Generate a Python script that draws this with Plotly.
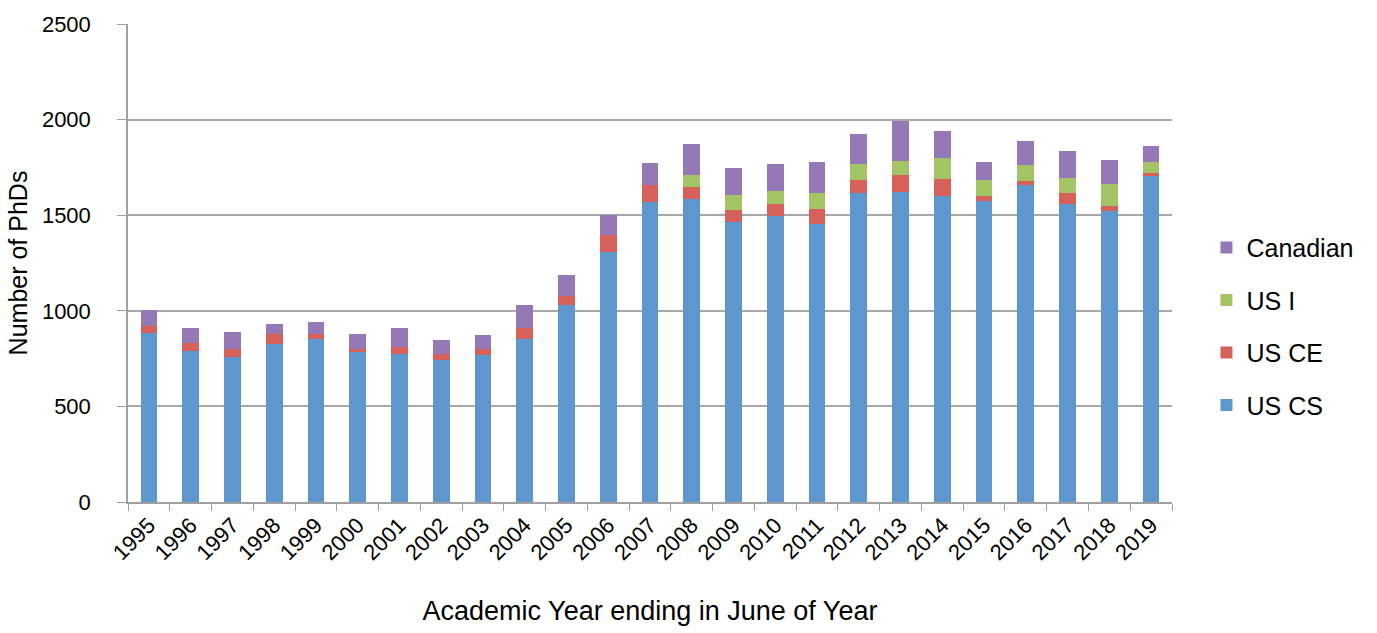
import plotly.graph_objects as go

years = [str(y) for y in range(1995, 2020)]
us_cs = [884, 791, 759, 824, 851, 785, 773, 742, 771, 855, 1031, 1305, 1571, 1583, 1466, 1497, 1453, 1617, 1622, 1603, 1573, 1656, 1559, 1520, 1703]
us_ce = [39, 41, 39, 53, 26, 15, 37, 32, 27, 56, 47, 94, 85, 63, 60, 59, 82, 69, 89, 88, 27, 24, 55, 27, 17]
us_i = [0, 0, 0, 0, 0, 0, 0, 0, 0, 0, 0, 0, 0, 64, 79, 73, 82, 83, 72, 106, 82, 81, 82, 118, 57]
canadian = [81, 79, 93, 53, 67, 77, 101, 71, 74, 118, 109, 100, 119, 162, 144, 137, 163, 155, 209, 142, 98, 127, 139, 123, 85]

series = [
    ("US CS", us_cs, "#5E96CE", 4),
    ("US CE", us_ce, "#D6605A", 3),
    ("US I", us_i, "#A2C465", 2),
    ("Canadian", canadian, "#9479B6", 1),
]

fig = go.Figure()
for name, vals, color, rank in series:
    fig.add_trace(go.Bar(x=years, y=vals, name=name, marker_color=color,
                         marker_line_width=0, legendgroup=name, legendrank=rank))

font_family = "Liberation Sans, Arial, Helvetica, sans-serif"
fig.update_layout(
    barmode="stack",
    bargap=0.6,
    width=1377, height=633,
    margin=dict(l=128, r=205, t=17, b=130),
    plot_bgcolor="white",
    paper_bgcolor="white",
    font=dict(family=font_family, size=22, color="black"),
    legend=dict(
        traceorder="grouped",
        tracegroupgap=17,
        x=1.033, y=0.58, xanchor="left", yanchor="top",
        font=dict(size=25),
        itemwidth=30,
    ),
    showlegend=True,
)
fig.update_xaxes(
    type="category",
    tickangle=-45,
    ticks="outside",
    tickson="boundaries",
    ticklen=7,
    tickcolor="#a0a0a0",
    showline=True, linecolor="#a0a0a0", linewidth=1.5,
    title=dict(text="Academic Year ending in June of Year", font=dict(size=27), standoff=37),
    tickfont=dict(size=22),
)
fig.update_yaxes(
    range=[0, 2500],
    tickvals=[0, 500, 1000, 1500, 2000, 2500],
    showgrid=True, gridcolor="#a8a8a8", gridwidth=1.5,
    ticks="outside", ticklen=9, tickcolor="#a0a0a0",
    ticklabelstandoff=22,
    showline=True, linecolor="#a0a0a0", linewidth=1.5,
    zeroline=False,
    title=dict(text="Number of PhDs", font=dict(size=25), standoff=7),
    tickfont=dict(size=22),
)

fig.write_html("out.html")
